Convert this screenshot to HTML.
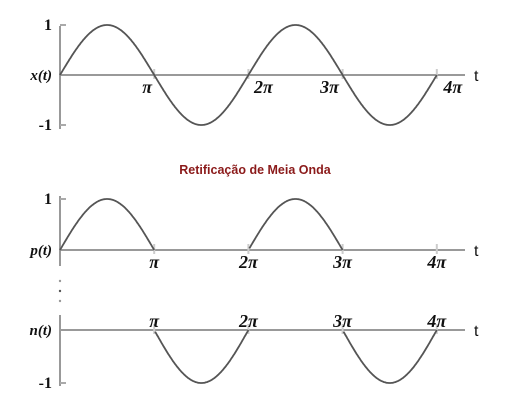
<!DOCTYPE html>
<html><head><meta charset="utf-8"><style>
html,body{margin:0;padding:0;background:#fff;width:512px;height:410px;overflow:hidden}
svg{display:block}
.m{font-family:"Liberation Serif",serif;font-weight:bold;font-size:16px;fill:#111}
.pi{font-family:"Liberation Serif",serif;font-weight:bold;font-style:italic;font-size:18px;fill:#111}
.lbl{font-family:"Liberation Serif",serif;font-weight:bold;font-style:italic;font-size:15px;fill:#111}
</style></head><body>
<svg id="c" width="512" height="410">
<text x="255" y="174" text-anchor="middle" font-family="Liberation Sans,sans-serif" font-weight="bold" font-size="12.5" fill="#8b1a1a">Retificação de  Meia Onda</text>
<circle cx="60" cy="281" r="1.2" fill="#999"/>
<circle cx="60" cy="291" r="1.2" fill="#555"/>
<circle cx="60" cy="301" r="1.2" fill="#999"/>
</svg>
<script>
const piTicks=[1,2,3,4];
const tickLabels=["π","2π","3π","4π"];
const panels=[
 {name:"x",label:"x(t)",zero:75,amp:50,mode:"full",yTop:26,yBot:129,labelY:93,offs:[-7,15,-13,16],ticksTxt:["1","-1"]},
 {name:"p",label:"p(t)",zero:250,amp:51,mode:"pos",yTop:196,yBot:266,labelY:268,offs:[0,0,0,0],ticksTxt:["1",null]},
 {name:"n",label:"n(t)",zero:330,amp:53,mode:"neg",yTop:315,yBot:386,labelY:327,offs:[0,0,0,0],ticksTxt:[null,"-1"]}
];
const svg=document.getElementById('c');
const NS="http://www.w3.org/2000/svg";
const x0=60, perPi=94.2;
const sx=t=>x0+t*perPi;
function mk(tag,attrs){const e=document.createElementNS(NS,tag);for(const k in attrs)e.setAttribute(k,attrs[k]);svg.appendChild(e);return e;}
panels.forEach(p=>{
 const sy=v=>p.zero-v*p.amp;
 let e=mk('line',{x1:x0,y1:p.yTop,x2:x0,y2:p.yBot,stroke:'#999','stroke-width':2});
 
 e=mk('line',{x1:x0,y1:p.zero,x2:465,y2:p.zero,stroke:'#999','stroke-width':2});
 
 e=mk('text',{x:474,y:p.zero+6,'font-family':'Liberation Sans,sans-serif','font-size':16,fill:'#111'});e.textContent='t';
 
 e=mk('text',{x:52,y:p.zero+5,'text-anchor':'end',class:'lbl'});e.textContent=p.label;
 
 if(p.ticksTxt[0]){e=mk('text',{x:52,y:sy(1)+5,'text-anchor':'end',class:'m'});e.textContent=p.ticksTxt[0];
  
  mk('line',{x1:x0,y1:sy(1),x2:x0+6,y2:sy(1),stroke:'#aaa','stroke-width':2});}
 if(p.ticksTxt[1]){e=mk('text',{x:52,y:sy(-1)+5,'text-anchor':'end',class:'m'});e.textContent=p.ticksTxt[1];
  
  mk('line',{x1:x0,y1:sy(-1),x2:x0+6,y2:sy(-1),stroke:'#aaa','stroke-width':2});}
 piTicks.forEach((k,i)=>{
  mk('line',{x1:sx(k),y1:p.zero-6,x2:sx(k),y2:p.zero+4,stroke:'#ccc','stroke-width':2});
  const t=mk('text',{x:sx(k)+p.offs[i],y:p.labelY,'text-anchor':'middle',class:'pi'});t.textContent=tickLabels[i];
  
  
 });
 let d='';
 for(let i=0;i<=400;i++){const t=i/100;let v=Math.sin(t*Math.PI);
  if(p.mode==='pos'&&v<0)v=NaN; if(p.mode==='neg'&&v>0)v=NaN;
  if(isNaN(v)){d+=' ';continue;}
  const cmd=(d===''||d.endsWith(' '))?'M':'L';d+=cmd+sx(t).toFixed(1)+','+sy(v).toFixed(1);}
 const path=mk('path',{d:d.replace(/ +/g,' '),fill:'none',stroke:'#555','stroke-width':1.8});
 
 
});
</script>
</body></html>
